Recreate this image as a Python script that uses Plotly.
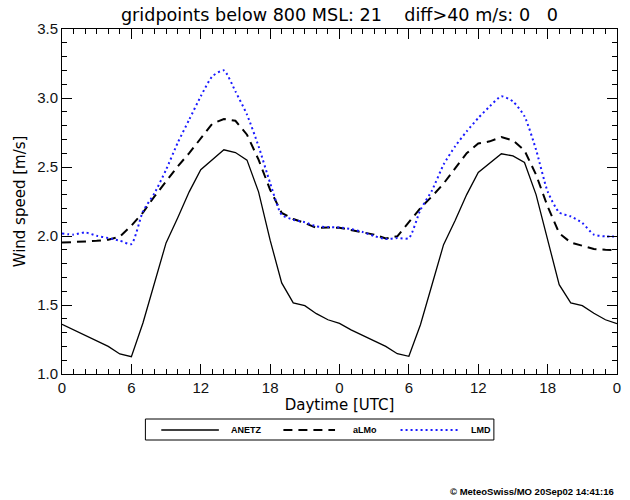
import plotly.graph_objects as go

hours = list(range(0, 49))

anetz = [1.36, 1.32, 1.28, 1.24, 1.20, 1.145, 1.125, 1.37, 1.66, 1.95, 2.13, 2.32,
         2.48, 2.555, 2.625, 2.605, 2.55, 2.32, 1.97, 1.66, 1.515, 1.495, 1.437, 1.393,
         1.367, 1.32, 1.277, 1.24, 1.20, 1.147, 1.128, 1.357, 1.647, 1.937, 2.113, 2.30,
         2.46, 2.53, 2.596, 2.58, 2.533, 2.30, 1.973, 1.647, 1.515, 1.495, 1.44, 1.393, 1.365]

almo = [1.952, 1.955, 1.96, 1.965, 1.973, 1.995, 2.075, 2.17, 2.287, 2.40, 2.504, 2.60,
        2.71, 2.814, 2.848, 2.835, 2.734, 2.553, 2.335, 2.167, 2.123, 2.094, 2.058, 2.062,
        2.06, 2.045, 2.026, 2.01, 1.982, 1.998, 2.10, 2.203, 2.287, 2.38, 2.49, 2.60,
        2.67, 2.686, 2.717, 2.693, 2.62, 2.444, 2.214, 2.02, 1.953, 1.93, 1.906, 1.90, 1.897]

lmd = [2.018, 2.01, 2.026, 2.002, 1.985, 1.966, 1.942, 2.178, 2.31, 2.48, 2.674, 2.843,
       3.012, 3.157, 3.20, 3.048, 2.879, 2.65, 2.384, 2.154, 2.118, 2.10, 2.07, 2.065,
       2.062, 2.05, 2.029, 2.00, 1.978, 1.985, 1.985, 2.19, 2.33, 2.517, 2.65, 2.758,
       2.855, 2.94, 3.012, 2.975, 2.867, 2.625, 2.323, 2.171, 2.142, 2.094, 2.01, 1.997, 1.997]

series_names = ["ANETZ", "aLMo", "LMD"]
xtick_vals = [0, 6, 12, 18, 24, 30, 36, 42, 48]
xtick_text = ["0", "6", "12", "18", "0", "6", "12", "18", "0"]
ytick_vals = [1.0, 1.5, 2.0, 2.5, 3.0, 3.5]
ytick_text = ["1.0", "1.5", "2.0", "2.5", "3.0", "3.5"]

title_text = "gridpoints below 800 MSL: 21\u00a0\u00a0\u00a0\u00a0diff>40 m/s: 0\u00a0\u00a0\u00a00"
xlabel = "Daytime [UTC]"
ylabel = "Wind speed [m/s]"
footer = "\u00a9 MeteoSwiss/MO 20Sep02 14:41:16"

FONT = "Liberation Sans, Arial, sans-serif"
WIDE = "DejaVu Sans, sans-serif"

styles = [
    dict(color="black", width=1.3, dash="solid"),
    dict(color="black", width=2, dash="9px,6px"),
    dict(color="#1a1aff", width=2, dash="2px,3px"),
]
shapes_line = ["linear", "linear", "spline"]

fig = go.Figure()
for name, ys, st, sh in zip(series_names, [anetz, almo, lmd], styles, shapes_line):
    line = dict(st, shape=sh)
    if sh == "spline":
        line["smoothing"] = 0.6
    fig.add_trace(go.Scatter(x=hours, y=ys, mode="lines", name=name,
                             line=line, showlegend=False))

# plot area in pixels
L, R, T, B = 62, 621, 29, 374
W, H = 630, 500
pw, ph = R - L, B - T

def px(x):
    return (x - L) / pw

def py(y):
    return (B - y) / ph

axis_common = dict(showgrid=False, zeroline=False, showline=True, linecolor="black",
                   linewidth=1, mirror="ticks", ticks="inside", ticklen=10,
                   tickcolor="black", tickwidth=1,
                   tickfont=dict(family=FONT, size=15, color="#111"))

fig.update_xaxes(range=[0, 48], tickvals=xtick_vals, ticktext=xtick_text,
                 minor=dict(ticks="inside", ticklen=5, dtick=1, tickcolor="black"),
                 title=dict(text=xlabel, font=dict(family=WIDE, size=15, color="black"),
                            standoff=4),
                 **axis_common)
fig.update_yaxes(range=[1.0, 3.5], tickvals=ytick_vals, ticktext=ytick_text,
                 minor=dict(ticks="inside", ticklen=5, dtick=0.1, tickcolor="black"),
                 title=dict(text=ylabel, font=dict(family=WIDE, size=15, color="black"),
                            standoff=7),
                 **axis_common)

shapes = []
annotations = []
# legend box
shapes.append(dict(type="rect", xref="paper", yref="paper",
                   x0=px(146), x1=px(497), y0=py(419), y1=py(440),
                   line=dict(color="black", width=1), fillcolor="rgba(0,0,0,0)"))
leg_y = py(430)
leg_items = [(162, 220, 230), (285, 337, 353), (403, 463, 472)]
for (x0, x1, lx), name, st in zip(leg_items, series_names, styles):
    shapes.append(dict(type="line", xref="paper", yref="paper",
                       x0=px(x0), x1=px(x1), y0=leg_y, y1=leg_y,
                       line=dict(color=st["color"], width=st["width"], dash=st["dash"])))
    annotations.append(dict(text="<b>" + name + "</b>", xref="paper", yref="paper",
                            x=px(lx), y=leg_y, xanchor="left", yanchor="middle",
                            showarrow=False,
                            font=dict(family=FONT, size=9, color="black")))

annotations.append(dict(text="<b>" + footer + "</b>", xref="paper", yref="paper",
                        x=px(620), y=py(491), xanchor="right", yanchor="middle",
                        showarrow=False, font=dict(family=FONT, size=9.5, color="black")))

fig.update_layout(
    width=W, height=H,
    margin=dict(l=L, r=W - R, t=T, b=H - B, pad=0),
    paper_bgcolor="white", plot_bgcolor="white",
    title=dict(text=title_text, x=0.5, xref="paper",
               xanchor="center", y=1 - 15 / H, yref="container", yanchor="middle",
               font=dict(family=WIDE, size=17.6, color="black")),
    shapes=shapes, annotations=annotations,
    showlegend=False,
)

fig.write_html("out.html")
